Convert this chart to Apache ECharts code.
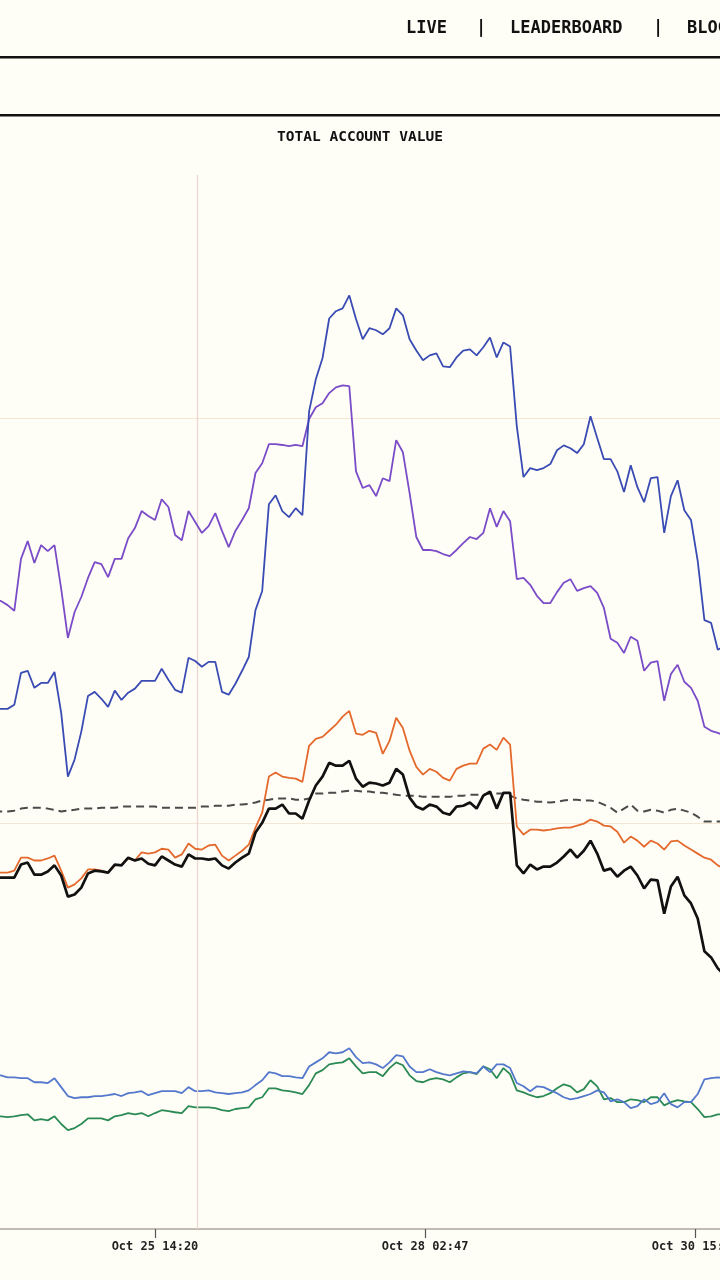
<!DOCTYPE html>
<html>
<head>
<meta charset="utf-8">
<script src="https://cdn.jsdelivr.net/npm/echarts@6.0.0/dist/echarts.min.js"></script>
<style>
  html, body { margin: 0; padding: 0; background: #fffef6; }
  #chart { width: 720px; height: 1280px; }
</style>
</head>
<body>
<div id="chart"></div>
<script>
// Time of each sample, in hours after Oct 25 14:20
const hoursSinceOct25_1420 = [-36,-34.5,-33,-31.5,-30,-28.5,-27,-25.5,-24,-22.5,-21,-19.5,-18,-16.5,-15,-13.5,-12,-10.5,-9,-7.5,-6,-4.5,-3,-1.5,0,1.5,3,4.5,6,7.5,9,10.5,12,13.5,15,16.5,18,19.5,21,22.5,24,25.5,27,28.5,30,31.5,33,34.5,36,37.5,39,40.5,42,43.5,45,46.5,48,49.5,51,52.5,54,55.5,57,58.5,60,61.5,63,64.5,66,67.5,69,70.5,72,73.5,75,76.5,78,79.5,81,82.5,84,85.5,87,88.5,90,91.5,93,94.5,96,97.5,99,100.5,102,103.5,105,106.5,108,109.5,111,112.5,114,115.5,117,118.5,120,121.5,123,124.5,126,127.5];

// Axis ticks
const tickHours = [0, 60.45, 120.9];
const tickLabels = ['Oct 25 14:20', 'Oct 28 02:47', 'Oct 30 15:14'];
const crosshairHour = 9.4;

// Account values ($)
const blueSeries = [12830,12830,12830,12930,13720,13770,13350,13470,13470,13740,
12730,11160,11580,12270,13150,13250,13080,12880,13280,13050,
13230,13330,13520,13520,13520,13820,13550,13300,13230,14090,
14010,13870,13990,13990,13250,13180,13450,13770,14110,15270,
15740,17880,18100,17710,17560,17780,17610,20170,20960,21480,
22460,22640,22710,23030,22450,21950,22220,22170,22070,22220,
22710,22540,21950,21670,21430,21550,21600,21280,21260,21500,
21670,21700,21550,21750,21990,21500,21870,21770,19800,18550,
18770,18720,18770,18870,19210,19330,19260,19140,19360,20050,
19510,18990,18990,18690,18180,18840,18300,17930,18520,18550,
17170,18080,18470,17730,17490,16480,15020,14950,14290,14380];

const purpleSeries = [15540,15490,15390,15250,16530,16970,16430,16870,16720,16870,
15790,14580,15220,15590,16060,16450,16400,16080,16530,16530,
17040,17290,17710,17590,17490,18000,17810,17120,16990,17710,
17440,17170,17340,17660,17220,16820,17220,17490,17780,18650,
18890,19360,19360,19340,19310,19340,19310,19980,20270,20370,
20620,20760,20810,20790,18690,18280,18350,18080,18520,18450,
19460,19160,18150,17070,16750,16750,16720,16650,16600,16750,
16920,17070,17020,17170,17780,17320,17710,17460,16030,16060,
15890,15620,15440,15440,15710,15940,16030,15740,15810,15860,
15690,15320,14560,14460,14210,14610,14510,13770,13970,14010,
13030,13690,13920,13500,13350,13030,12390,12290,12240,12170];

const orangeSeries = [8790,8790,8790,8840,9160,9160,9090,9090,9140,9210,
8840,8420,8500,8650,8870,8870,8840,8790,8970,8990,
9140,9090,9290,9260,9290,9380,9360,9160,9240,9510,
9380,9360,9460,9480,9210,9090,9210,9330,9480,9900,
10270,11160,11260,11160,11130,11110,11030,11920,12090,12140,
12290,12440,12640,12780,12220,12190,12290,12240,11720,12040,
12610,12360,11800,11400,11210,11350,11280,11130,11060,11350,
11430,11480,11480,11850,11950,11820,12120,11950,9930,9730,
9850,9850,9830,9850,9880,9900,9900,9950,10000,10100,
10050,9950,9930,9800,9530,9680,9580,9430,9580,9510,
9360,9560,9580,9460,9360,9260,9160,9110,8970,8890];

const blackSeries = [8670,8670,8670,8670,8990,9040,8740,8740,8820,8970,
8720,8200,8250,8420,8770,8840,8820,8790,8990,8970,
9160,9090,9140,9010,8970,9190,9090,8990,8940,9240,
9140,9140,9110,9140,8970,8890,9040,9160,9260,9780,
10020,10370,10370,10470,10250,10250,10120,10570,10940,11160,
11500,11430,11430,11550,11110,10910,11010,10990,10940,11010,
11350,11210,10640,10420,10350,10470,10420,10270,10220,10420,
10440,10520,10370,10690,10790,10370,10760,10760,8970,8770,
8990,8870,8940,8940,9040,9190,9360,9160,9330,9580,
9260,8840,8890,8690,8840,8940,8720,8400,8620,8600,
7780,8450,8690,8230,8030,7660,6850,6700,6430,6260];

const dashedSeries = [10300,10300,10300,10320,10370,10390,10390,10390,10370,10340,
10300,10320,10340,10370,10370,10370,10390,10390,10390,10420,
10420,10420,10420,10420,10420,10390,10390,10390,10390,10390,
10390,10420,10420,10440,10440,10440,10470,10470,10490,10520,
10570,10590,10620,10620,10620,10590,10590,10620,10740,10740,
10760,10760,10790,10810,10810,10790,10790,10760,10760,10740,
10710,10690,10690,10690,10660,10660,10660,10660,10660,10690,
10690,10710,10710,10710,10740,10740,10740,10690,10620,10590,
10570,10540,10540,10520,10540,10570,10590,10590,10570,10570,
10540,10470,10390,10270,10370,10470,10320,10300,10340,10320,
10270,10340,10370,10320,10270,10170,10050,10050,10050,10050];

const lightBlueSeries = [3790,3790,3740,3740,3720,3720,3620,3620,3600,3720,
3500,3280,3230,3250,3250,3280,3280,3300,3330,3280,
3350,3370,3400,3300,3350,3400,3400,3400,3350,3500,
3400,3400,3420,3370,3350,3330,3350,3370,3420,3550,
3670,3870,3840,3770,3770,3740,3720,4010,4110,4210,
4360,4330,4360,4460,4240,4090,4110,4060,3970,4110,
4290,4260,4010,3870,3870,3940,3870,3820,3790,3840,
3890,3870,3840,4010,3870,4060,4060,3970,3600,3520,
3400,3520,3500,3420,3350,3250,3200,3230,3280,3330,
3420,3370,3150,3200,3130,2980,3030,3200,3080,3130,
3350,3080,3000,3130,3130,3330,3690,3720,3740,3720];

const greenSeries = [2780,2780,2760,2780,2810,2830,2680,2710,2680,2780,
2590,2440,2490,2590,2730,2730,2730,2680,2780,2810,
2860,2830,2860,2780,2860,2930,2910,2880,2860,3030,
3000,3000,3000,2980,2930,2910,2960,2980,3000,3200,
3250,3470,3470,3420,3400,3370,3330,3550,3840,3920,
4060,4090,4110,4210,4010,3840,3870,3870,3770,3970,
4110,4040,3790,3650,3620,3690,3720,3690,3620,3740,
3840,3870,3820,4010,3940,3720,3970,3820,3420,3370,
3300,3250,3280,3350,3470,3570,3520,3370,3450,3670,
3520,3200,3230,3130,3130,3200,3180,3130,3250,3250,
3050,3130,3180,3150,3130,2960,2760,2780,2830,2830];

const MONO = '"DejaVu Sans Mono", "Liberation Mono", monospace';
const pairs = arr => hoursSinceOct25_1420.map((h, i) => [h, arr[i]]);

function line(name, arr, color, width, type, z) {
  return {
    name, type: 'line', data: pairs(arr), showSymbol: false, symbol: 'none',
    lineStyle: { color, width, type: type || 'solid' }, itemStyle: { color },
    z: z || 2, silent: true, animation: false
  };
}

const chart = echarts.init(document.getElementById('chart'), null, { renderer: 'canvas' });

const series = [
  line('GPT 5', greenSeries, '#2b8a55', 1.8, null, 2),
  line('GEMINI 2.5 PRO', lightBlueSeries, '#5478cc', 1.8, null, 3),
  line('BTC BUY&HOLD', dashedSeries, '#4a4a4a', 2, [8, 5], 4),
  line('CLAUDE SONNET 4.5', orangeSeries, '#e4692d', 1.8, null, 5),
  line('GROK 4', blackSeries, '#111111', 2.7, null, 6),
  line('QWEN3 MAX', purpleSeries, '#7a4cc8', 1.8, null, 7),
  line('DEEPSEEK CHAT V3.1', blueSeries, '#3a4cb4', 1.8, null, 8)
];
series[0].markLine = {
  silent: true, symbol: ['none', 'none'], label: { show: false },
  lineStyle: { color: '#e8d8d0', width: 1.3, type: 'solid' },
  data: [{ xAxis: crosshairHour }], animation: false
};

chart.setOption({
  backgroundColor: '#fffef6',
  animation: false,
  title: {
    text: 'TOTAL ACCOUNT VALUE', left: 'center', top: 125,
    textStyle: { fontFamily: MONO, fontSize: 14.5, fontWeight: 'bold', color: '#111' }
  },
  grid: { left: 0, right: 0, top: 175, bottom: 51, containLabel: false, outerBoundsMode: 'none' },
  xAxis: {
    type: 'value', min: -34.7, max: 126.49,
    axisLine: { show: true, lineStyle: { color: '#aca49b', width: 1.6 } },
    axisTick: { show: true, customValues: tickHours, length: 9, lineStyle: { color: '#555', width: 1.2 } },
    axisLabel: {
      customValues: tickHours, margin: 12, hideOverlap: false,
      fontFamily: MONO, fontSize: 12, fontWeight: 'bold', color: '#222',
      formatter: v => {
        const i = tickHours.findIndex(t => Math.abs(t - v) < 0.01);
        return i >= 0 ? tickLabels[i] : '';
      }
    },
    splitLine: { show: false }
  },
  yAxis: {
    type: 'value', min: 0, max: 26000, interval: 10000,
    axisLine: { show: false }, axisTick: { show: false }, axisLabel: { show: false },
    splitLine: { show: true, showMinLine: false, showMaxLine: false, lineStyle: { color: '#f6e6d4', width: 1 } }
  },
  graphic: [
    { type: 'text', left: 406, top: 20, style: { text: 'LIVE', font: 'bold 17px ' + MONO, fill: '#111' } },
    { type: 'text', left: 476, top: 20, style: { text: '|', font: 'bold 17px ' + MONO, fill: '#111' } },
    { type: 'text', left: 510, top: 20, style: { text: 'LEADERBOARD', font: 'bold 17px ' + MONO, fill: '#111' } },
    { type: 'text', left: 653, top: 20, style: { text: '|', font: 'bold 17px ' + MONO, fill: '#111' } },
    { type: 'text', left: 687, top: 20, style: { text: 'BLOG', font: 'bold 17px ' + MONO, fill: '#111' } },
    { type: 'rect', left: 0, top: 56, shape: { width: 720, height: 2.5 }, style: { fill: '#111' } },
    { type: 'rect', left: 0, top: 114, shape: { width: 720, height: 2.5 }, style: { fill: '#111' } }
  ],
  series
});
</script>
</body>
</html>
